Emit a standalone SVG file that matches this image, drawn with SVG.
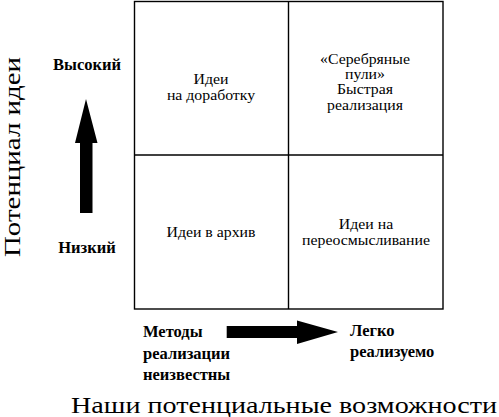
<svg xmlns="http://www.w3.org/2000/svg" width="499" height="417" viewBox="0 0 499 417">
<style>
text{font-family:"Liberation Serif","Times New Roman",serif;fill:#000}
.q{font-size:14.5px;text-anchor:middle}
.b{font-size:16.5px;font-weight:bold}
.big{font-size:24px}
.ln{stroke:#000;stroke-width:1.4;fill:none}
</style>
<rect width="499" height="417" fill="#fff"/>
<g id="grid">
<rect class="ln" x="134.5" y="1.5" width="308.5" height="307.5"/>
<line class="ln" x1="288.5" y1="1.5" x2="288.5" y2="309"/>
<line class="ln" x1="134.5" y1="155" x2="443" y2="155"/>
</g>
<g id="q-tl" transform="translate(211,0) scale(1.09,1)"><text class="q"><tspan x="0" y="84.5">Идеи</tspan><tspan x="0" y="100">на доработку</tspan></text></g>
<g id="q-tr" transform="translate(365,0) scale(1.09,1)"><text class="q"><tspan x="0" y="64">«Серебряные</tspan><tspan x="0" y="79.2">пули»</tspan><tspan x="0" y="94.4">Быстрая</tspan><tspan x="0" y="109.6">реализация</tspan></text></g>
<g id="q-bl" transform="translate(211,0) scale(1.09,1)"><text class="q" x="0" y="237">Идеи в архив</text></g>
<g id="q-br" transform="translate(366,0) scale(1.09,1)"><text class="q"><tspan x="0" y="229">Идеи на</tspan><tspan x="0" y="245">переосмысливание</tspan></text></g>
<g id="axis-y">
<text class="b" x="87" y="70" text-anchor="middle">Высокий</text>
<text class="b" x="87" y="253" text-anchor="middle">Низкий</text>
<text class="big" transform="translate(20,257) rotate(-90)" textLength="200" lengthAdjust="spacingAndGlyphs">Потенциал идеи</text>
</g>
<g id="axis-x">
<text class="b"><tspan x="143" y="337">Методы</tspan><tspan x="143" y="358.5">реализации</tspan><tspan x="143" y="380">неизвестны</tspan></text>
<text class="b"><tspan x="350" y="336">Легко</tspan><tspan x="350" y="357">реализуемо</tspan></text>
<text class="big" x="71" y="413" textLength="426" lengthAdjust="spacingAndGlyphs">Наши потенциальные возможности</text>
</g>
<g id="connectors">
<polygon points="86,99 97.5,143 92.5,143 92.5,213 80,213 80,143 75,143" fill="#000"/>
<polygon points="226.7,326 297,326 297,320.5 338,332 297,344 297,338 226.7,338" fill="#000"/>
</g>
</svg>
